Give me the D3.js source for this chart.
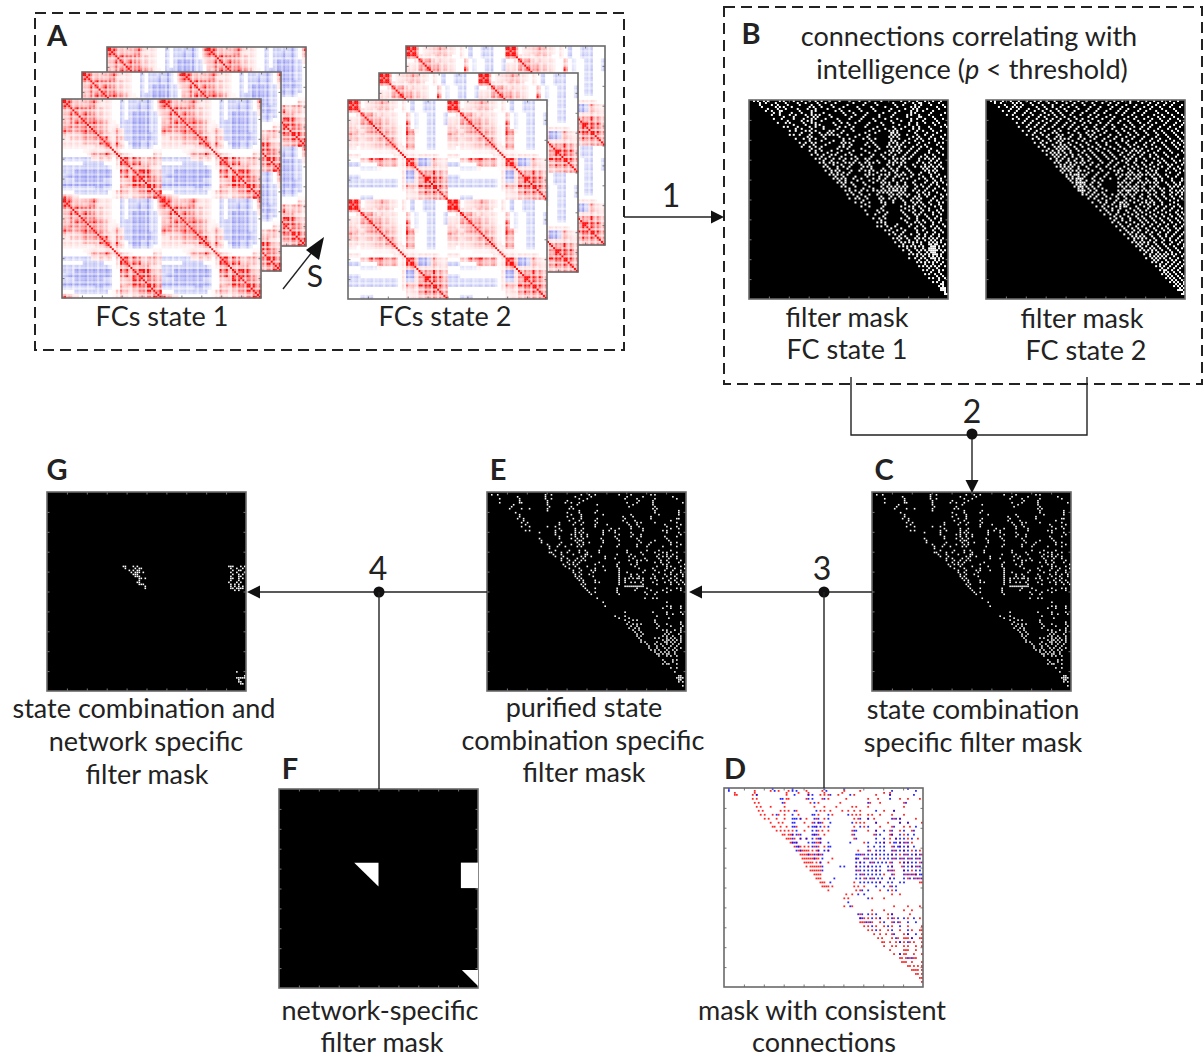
<!DOCTYPE html>
<html>
<head>
<meta charset="utf-8">
<style>
  html, body { margin: 0; padding: 0; background: #fff; }
  svg { display: block; }
  text { font-family: Lato, "Open Sans", sans-serif; fill: #222; }
</style>
</head>
<body>
<svg id="fig" width="1203" height="1057"></svg>
<script src="https://cdn.jsdelivr.net/npm/d3@7"></script>
<script>
// FC matrix, state 1: upper triangle of one half-period, digits 0 (blue) .. 3 (white) .. 9 (red)
const fcState1 = [
  '986555676444332312221237', '96665775444332312121236', '7776765544332312121235', '767765544332311111224',
  '67776544332311111223', '6777654432211111223', '677654542211111223', '77654664211111223',
  '7755664211111123', '775565211111123', '77674311121223', '7775321121233',
  '773333333344', '75443333354', '7877655665', '787755554', '77788654', '7798755', '788765', '77876', '7876', '787', '79', '9'
];
// FC matrix, state 2
const fcState2 = [
  '999344557544343233222333', '99344556544343233222333', '9444455543343233222333', '766545444335323322332',
  '86665544335323322332', '7665544337323322332', '676555437323322333', '66655438643322333',
  '6655438633322333', '665436533322333', '66536533322333', '6547633322333',
  '664443333333', '54444444433', '9871126544', '881125544', '75556555', '6668665', '898775', '88876', '7876', '776', '76', '8'
];
// thin lines that run through the FC matrices, paler or stronger than their block
const fcStreaks = [1,1.2,.7,1,1.3,.5,1,1.2,.6,1,1,1.3,.6,1,.8,1.2,1,.5,1.2,1,.7,1.3,1,.6,.3,.4,1.2,.5,1.3,.7,1,1.3,.6,.4,1.2,1,.6,1.3,.8,1,.5,1.3,1,.5,1.2,.8,.6,1.2];

// masks: [row, [columns]] on a 100 x 100 grid
const maskB1 = [
  [0,[2,4,7,9,15,17,22,26,30,33,36,40,45,50,55,60,66,76,80,84,88,92,96]],[1,[5,8,13,18,24,28,34,38,43,52,58,63,72,78,82,85,86,90,95]],
  [3,[6,13,15,17,21,30,32,36,42,47,54,61,68,74,81,83,85,94,98]],[5,[8,11,15,16,25,31,33,43,46,50,56,63,70,75,81,84,87,92]],
  [7,[11,15,20,23,28,31,33,35,40,48,53,58,65,72,79,81,85,90,96]],[9,[12,16,22,27,31,33,38,44,50,56,62,68,74,81,84,88,93,97]],
  [11,[14,18,20,27,31,33,42,46,49,53,60,66,72,80,84,88,92,95]],[13,[17,19,24,30,33,37,45,48,52,58,64,72,78,82,85,90,96,99]],
  [15,[20,23,28,30,33,40,42,47,52,60,65,70,72,74,80,84,87,92,96]],[17,[20,22,25,30,36,38,40,42,44,49,55,60,71,73,75,79,84,88,92,98]],
  [19,[23,27,30,33,38,47,50,57,60,63,71,75,80,84,86,90,93,97]],[21,[25,28,31,33,40,46,48,50,59,62,70,72,74,77,80,85,90,95,97]],
  [23,[26,30,33,36,45,47,50,60,64,69,71,73,75,78,82,86,89,96]],[25,[30,33,36,41,46,52,58,63,70,72,74,76,80,84,90,94]],
  [27,[31,34,37,41,43,48,51,56,62,66,70,73,78,82,88,92,97]],[29,[33,35,38,42,45,48,51,54,58,60,68,72,74,76,78,80,85,88,90,92,95]],
  [31,[35,37,40,42,44,48,50,52,55,58,60,62,65,70,72,74,76,78,84,87,90,93,96]],[33,[37,39,44,47,50,57,59,61,70,75,78,83,86,88,90,92,94,96]],
  [35,[38,41,43,45,51,55,58,60,62,66,68,72,74,80,88,90,92,94]],[37,[40,42,44,46,49,58,60,62,66,68,70,74,76,78,82,85,91,95]],
  [39,[42,44,46,48,52,56,62,65,68,72,77,79,85,88,92,96]],[41,[44,46,48,51,57,62,66,68,70,74,78,82,88,92,94,97]],
  [43,[46,48,53,60,66,69,71,73,75,77,79,84,87,90,95]],[45,[48,50,53,56,59,62,64,66,68,70,72,73,74,76,78,82,85,88,92,98]],
  [47,[49,52,56,60,64,70,72,74,76,78,80,85,88,90,96,99]],[49,[50,53,55,59,65,67,70,73,76,82,84,86,92,96]],
  [51,[53,56,60,66,68,72,78,82,84,86,90,95,97]],[53,[56,60,67,76,80,82,85,88,93,96]],[55,[58,64,67,76,80,83,87,90,94,97]],
  [57,[59,63,68,78,83,85,88,92,96]],[59,[62,65,68,76,80,84,90,93,96]],[61,[64,66,68,79,83,85,88,92,95]],
  [63,[64,66,69,73,80,84,87,91,94,98]],[65,[68,70,74,78,84,87,92,96]],[67,[70,73,76,81,85,88,92,95]],
  [69,[72,74,76,79,83,85,87,90,92,94,97]],[71,[73,76,78,80,82,84,86,90,92,94,96]],[73,[75,77,79,81,83,85,87,91,92,93,95,97]],
  [75,[77,80,84,86,88,90,91,92,93,94,96,98]],[77,[80,82,84,86,88,90,92,93,94,96]],[79,[80,83,86,88,91,92,93,95,97]],
  [81,[84,86,88,90,92,94,97]],[83,[85,87,89,91,93,95,98]],[85,[87,89,92,95,97]],[87,[88,90,93,96]],[89,[90,92,95,98]],
  [91,[92,94,97]],[93,[95,97]],[95,[96,97,98]],[97,[98,99]]
];
const maskB1Even = [
  [2,[5,11,14,19,25,31,35,41,49,57,64,73,77,83,86,91,97]],[4,[9,14,18,24,29,33,39,45,55,62,71,78,82,84,89,95]],
  [6,[12,15,21,26,31,37,47,52,59,67,73,81,83,91,98]],[8,[17,22,29,32,34,41,51,57,65,71,79,85,86,92]],
  [10,[19,26,29,31,36,45,55,63,71,76,81,87,94]],[12,[22,28,33,35,43,50,59,67,75,80,84,93,98]],
  [14,[23,26,31,37,44,51,62,68,73,76,82,85,91]],[16,[26,31,35,39,41,46,58,63,71,72,74,83,89,94]],
  [18,[29,31,37,45,53,59,70,72,74,82,85,91,96]],[20,[30,36,42,47,52,61,71,73,78,83,87,93]],
  [22,[27,32,38,47,51,58,63,70,74,76,84,88,94]],[24,[31,35,44,49,56,65,72,75,81,85,91,97]],
  [26,[33,39,44,50,60,68,71,75,79,83,90,95]],[28,[36,40,46,53,61,67,72,77,81,86,89,93]],
  [30,[37,41,47,53,59,64,70,73,77,85,91,94]],[32,[38,42,46,51,56,60,69,72,76,82,88,91,95]],
  [34,[40,44,49,56,61,67,71,74,79,87,89,93,97]],[36,[41,44,47,50,60,64,70,73,77,81,86,90,93]],
  [38,[43,47,53,59,65,69,73,75,81,87,91,94,98]],[40,[45,48,54,60,64,67,72,76,83,89,93,96]],
  [42,[47,52,58,67,70,74,78,83,86,91,94,99]],[44,[50,57,62,67,70,72,74,76,78,83,89,93,97]],
  [46,[51,55,65,67,69,71,75,77,84,87,90,94]],[48,[54,58,66,71,75,79,83,85,89,93,97]],
  [50,[57,66,72,77,81,85,91,94]],[52,[58,68,78,83,87,91,95]],[54,[66,78,82,86,90,96]],[56,[65,69,77,82,86,92,95]],
  [58,[67,79,84,89,94]],[60,[66,78,84,87,91,96]],[62,[68,74,81,86,92,97]],[64,[71,76,83,88,93,95]],
  [66,[72,77,84,89,93,97]],[68,[75,78,84,88,91,95]],[70,[75,80,84,88,91,93,96]],[72,[77,82,86,90,91,93,94,98]],
  [74,[79,83,87,90,91,92,93,95]],[76,[81,85,89,91,92,93,97]],[78,[84,87,90,92,94,96]],[80,[85,89,93,95]],
  [82,[88,92,96]],[84,[90,94]],[86,[91,95]],[88,[94,97]],[90,[95]],[92,[96,97]],[94,[96,97,98]],[96,[98]]
];
const maskB2 = [
  [0,[2,4,8,12,16,20,24,27,30,34,38,42,46,50,55,60,64,68,72,76,80,84,88,92,96]],[1,[4,7,13,15,17,22,26,31,35,40,44,48,53,58,62,66,72,78,82,86,90,94]],
  [3,[6,10,13,15,17,25,29,33,37,41,45,52,57,63,68,74,79,83,87,92,97]],[5,[8,11,15,20,24,28,32,36,40,44,50,55,60,66,70,76,80,85,90,95]],
  [7,[10,13,18,23,27,31,34,38,42,47,52,56,62,68,73,78,84,88,93,98]],[9,[13,16,20,25,30,33,37,41,45,48,53,58,63,69,74,79,83,87,92,96]],
  [11,[15,18,22,26,30,35,40,44,49,52,57,61,66,72,77,81,85,90,95,99]],[13,[16,20,24,28,33,38,42,46,50,54,59,64,70,74,78,82,87,92,97]],
  [15,[18,21,25,29,34,37,44,51,53,56,60,65,69,74,79,84,88,93,96]],[17,[20,23,28,31,36,38,43,47,51,53,57,62,67,72,76,81,86,90,95,99]],
  [19,[23,26,31,34,37,39,41,46,49,54,59,64,68,73,78,83,87,92,97]],[21,[24,27,30,35,37,41,45,50,55,60,65,70,75,80,84,88,93,96,99]],
  [23,[26,29,34,36,38,40,44,48,53,57,62,67,72,76,80,85,90,95,99]],[25,[28,30,33,36,38,42,46,49,52,56,61,66,70,73,75,77,81,86,92,98]],
  [27,[30,33,35,37,40,43,46,50,54,59,63,67,71,74,78,82,85,90,96]],[29,[32,35,38,41,45,48,52,56,61,65,70,72,75,79,84,88,93,99]],
  [31,[34,36,40,42,45,47,49,53,58,62,66,70,74,78,83,87,90,95,99]],[33,[35,37,39,41,43,46,50,55,60,64,69,73,76,80,84,88,92,96]],
  [35,[37,39,41,43,45,47,49,53,58,64,66,68,72,76,80,83,85,90,95,99]],[37,[40,42,44,45,46,48,50,55,60,65,68,70,72,74,76,78,80,82,84,86,90,96]],
  [39,[41,43,45,46,47,48,53,57,62,66,70,72,74,76,80,84,85,88,93,98]],[41,[43,45,46,47,48,49,53,56,66,68,70,72,76,78,80,82,84,86,90,94,97]],
  [43,[44,46,47,48,50,53,56,66,68,70,72,74,76,78,82,84,86,92,94,96,99]],[45,[46,47,48,49,52,55,60,66,68,70,71,72,74,76,78,80,82,84,88,92,95,97,99]],
  [47,[48,50,53,56,59,63,66,68,70,72,74,78,82,84,88,92,95,98]],[49,[51,54,58,62,66,70,74,78,82,86,90,94,98]],
  [51,[53,57,60,64,67,68,70,74,78,80,82,84,88,94]],[53,[55,58,61,65,67,69,70,75,79,82,86,90,94,97]],
  [55,[57,60,63,66,70,74,77,80,84,88,92,96]],[57,[59,62,65,69,73,76,80,84,88,92,96,99]],[59,[62,65,68,72,76,79,83,87,91,95,98]],
  [61,[63,66,70,74,78,81,85,89,93,97]],[63,[65,68,71,75,78,82,86,90,94,98]],[65,[67,70,74,77,81,85,89,92,96]],
  [67,[69,72,75,78,82,86,90,94,98]],[69,[71,74,76,78,80,84,88,92,96]],[71,[73,75,77,79,81,84,88,93,97]],[73,[75,77,80,83,86,90,94,99]],
  [75,[77,79,81,83,85,88,92,96]],[77,[79,82,85,87,89,91,93,95,99]],[79,[80,83,85,87,89,92,96]],[81,[83,85,88,91,94,97]],
  [83,[85,87,89,92,95,98]],[85,[87,89,90,93,96]],[87,[88,90,92,95,98]],[89,[90,92,94,97]],[91,[92,94,96,99]],[93,[94,96,98]],[95,[96,97,98]],[97,[98,99]]
];
const maskB2Even = [
  [2,[9,14,18,23,28,33,38,43,49,54,61,65,70,75,81,85,89,93,98]],[4,[12,16,21,26,30,35,39,46,51,56,62,67,71,77,82,88,94]],
  [6,[14,19,22,29,33,37,43,48,54,59,65,69,74,79,86,91,96]],[8,[15,21,26,29,35,39,44,51,55,60,64,71,75,81,86,89,94,99]],
  [10,[19,23,28,32,36,42,47,51,56,62,67,71,76,82,88,91,97]],[12,[21,25,29,34,39,43,48,55,60,63,69,73,79,83,89,94,98]],
  [14,[22,27,31,36,41,45,49,55,58,63,68,72,77,81,86,91,95]],[16,[24,27,33,35,41,46,50,54,59,66,71,75,80,85,89,94,98]],
  [18,[25,30,35,37,42,47,52,55,61,65,70,74,79,85,91,96]],[20,[28,32,36,38,43,48,52,58,62,68,71,77,82,86,90,94,98]],
  [22,[28,33,37,39,42,47,51,56,60,66,71,74,79,83,89,94,97]],[24,[31,35,37,39,41,45,51,55,59,64,69,74,78,83,87,91,96]],
  [26,[32,34,36,39,42,48,53,58,62,68,72,76,79,84,89,93,99]],[28,[34,36,39,43,47,51,55,60,64,69,73,77,82,86,91,95]],
  [30,[35,37,41,44,48,51,57,63,68,71,75,80,86,89,94,97]],[32,[37,39,42,44,48,52,56,61,65,71,75,79,82,86,91,93,98]],
  [34,[38,40,42,46,51,57,62,67,71,74,78,82,86,91,94,97]],[36,[38,42,46,51,56,61,66,71,73,77,81,85,92,97]],
  [38,[40,43,46,49,54,59,67,71,75,77,83,87,91,95]],[40,[42,45,47,50,54,58,69,73,77,81,85,88,93,98]],
  [42,[45,47,49,52,57,67,71,75,79,85,91,95,97]],[44,[46,48,51,54,58,69,73,75,79,83,87,89,93,98]],
  [46,[48,51,54,58,67,71,75,81,85,89,93,96,98]],[48,[52,55,60,65,69,73,77,81,85,89,93,97]],
  [50,[56,60,65,69,72,76,80,83,87,92,96]],[52,[59,63,67,69,71,77,81,84,88,92,96]],[54,[59,63,67,72,76,81,85,89,93,98]],
  [56,[61,66,71,75,78,82,86,90,95,98]],[58,[64,67,71,75,78,82,85,89,93,97]],[60,[64,68,72,77,80,84,88,92,96,99]],
  [62,[67,72,76,79,83,87,91,95,99]],[64,[69,73,76,80,84,88,91,95,97]],[66,[71,73,76,80,83,87,91,95,99]],
  [68,[73,75,77,79,83,87,90,93,97]],[70,[74,78,82,85,89,92,95,98]],[72,[76,78,81,85,89,92,96,99]],[74,[78,82,84,87,91,95,98]],
  [76,[80,83,86,90,93,97]],[78,[82,84,86,88,90,94,98]],[80,[84,86,90,93,95,99]],[82,[87,90,93,96,99]],[84,[88,91,94,97]],
  [86,[89,91,94,97]],[88,[91,93,96,99]],[90,[93,95,98]],[92,[95,97,99]],[94,[97,99]],[96,[99]]
];
const maskC = [
  [1,[2,5,29,32,47,51,54,66,72,82,84]],[3,[6,16,29,32,46,50,69,75,84,95]],[5,[6,16,17,30,39,42,46,70,75,83,98]],[8,[11,17,21,30,41,43,83,85]],
  [10,[14,40,46,54,84,96]],[13,[15,18,43,47,55,69,82,95,96]],[15,[17,20,36,44,48,55,70,75,77,84,95]],[17,[17,21,30,34,54,72,76,90,95]],
  [19,[19,21,34,37,44,47,58,61,64,78,88,90]],[21,[34,42,44,47,50,58,66,73,77,97]],[23,[26,36,42,45,48,57,65,75,90]],[25,[27,37,45,48,51,58,77,82,92,95]],
  [27,[31,35,39,45,47,57,65,75,80,88,95]],[28,[31]],[30,[31,32,37,40,46,50,56,70,77,84,88,90,95]],[32,[34,38,47,49,52,59,71,74,85,88,90,92,95]],
  [34,[37,41,44,47,49,71,75,77,80,87,90,97]],[36,[38,41,43,45,54,65,72,75,88,90,99]],[39,[43,47,52,54,59,66,79,84,89,93,97]],
  [41,[44,47,51,66,72,75,83,89,92,95,98]],[43,[45,47,66,69,71,73,75,76,78,82,84,88,92,95]],[45,[48,54,56,66,69,72,74,77,83,89,92,95,98]],
  [47,[48,69,70,71,72,73,74,75,76,77,78]],[48,[49,54,65,75,80,90,95,97]],[50,[51,54,65,79,85,90]],[53,[55,79,83,85]],[57,[59,90,92,97]],
  [60,[69,83,90,97]],[62,[64,69,85]],[64,[69,73,75,84]],[66,[70,73,75,77,85,90,97]],[68,[71,74,76,85,97]],[70,[74,77,90,92,97]],
  [72,[75,77,88,90,93,97]],[74,[77,88,90,91,93,95,97]],[75,[77,79,85,89,90,92,94,97]],[77,[81,85,88,92,95]],[79,[82,84,86,90,93,95]],
  [81,[85,86,88,90,91,94]],[84,[88,93,95]],[86,[88,90,91,95]],[90,[94]],[93,[95,96,97,98]],[95,[96,98]],[97,[98]]
];
const maskCExtra = [
  [2,[15,29,44,52,70,78,93]],[4,[16,30,40,48,76,83]],[6,[13,30,45,55,73,83]],[7,[12,31,42,71,84]],[9,[30,46,55,84,96]],[11,[16,42,47,58,72,86,96]],
  [12,[16,40,47,68,73,82]],[14,[18,41,46,54,68,74,92]],[16,[19,36,43,47,54,60,71,75,89,97]],[18,[36,44,48,62,66,72,78,92,96]],
  [20,[26,34,44,46,48,58,64,72,90,96]],[22,[36,44,47,50,64,72,77,89,95]],[24,[27,44,46,47,58,66,76,84,91]],[26,[30,36,42,46,48,66,75,81,92,97]],
  [29,[34,41,46,49,56,70,80,86,92]],[31,[33,37,43,49,50,65,72,78,86,90,93]],[33,[37,40,45,48,59,64,73,79,86,91,95]],[35,[40,43,46,56,66,75,84,87,91,96]],
  [37,[39,44,50,58,65,74,85,90,92,97]],[38,[41,46,54,66,76,83,90,94,99]],[40,[43,46,53,66,70,78,86,92,97]],[42,[44,46,53,66,72,76,84,90,94,98]],
  [44,[46,48,54,66,69,78,85,91,94,97]],[46,[47,49,66,78,85,92,96,99]],[49,[50,65,74,82,88,92,97]],[51,[52,66,80,84]],[55,[58,90]],[58,[88,92,97]],
  [61,[90,93,98]],[63,[66,71,91]],[65,[71,84,97]],[67,[72,75,86,92,98]],[69,[73,76,88,90,94,97]],[71,[75,78,89,91,96]],[73,[76,84,86,90,92,94,97]],
  [76,[80,84,87,90,93,96]],[78,[81,85,89,91,94,97]],[80,[84,87,89,91,94]],[82,[86,90,92,95]],[85,[89,93]],[88,[92,95]],[92,[96,97]],[94,[96,97]]
];
const maskG = [
  [37,[38,39,43,45,91,92,93,97,99]],[38,[39,44,46,47,92,95,98]],[39,[41,43,45,46,93,96,97]],[40,[42,44,45,46,48,92,95,99]],[41,[43,44,45,93,96,98]],
  [42,[44,45,46,92,96,97]],[43,[46,47,49,92,93,96,98]],[44,[46,92,96]],[45,[45,46,91,95,97]],[46,[46,47,48,92,94,96]],[47,[49,92,94,96,98]],
  [48,[49,92,93,95,96,97,98]],[49,[94,96]],[90,[95]],[92,[99]],[93,[95,96,97,98,99]],[94,[96]],[95,[96,97]],[96,[97,98]]
];
const maskDRed = [
  [1,[15,23,27,32,41,49,60,68]],[2,[5,15,31,37,42,50,59,80,83]],[3,[5,6,14,16,31,42,48,50,52,57,65,76,83]],[5,[14,16,31,32,41,49,52,61,72,77,88,92,98]],
  [7,[15,17,30,43,47,58,73,78,90]],[9,[16,18,23,30,45,50,56,64,66,72,90]],[11,[17,19,28,30,32,36,48,50,53,59,62,65,68,80,85]],
  [13,[18,20,24,27,30,37,47,54,64,66,68,72,74,78,84,90]],[15,[20,22,26,30,38,41,46,50,65,67,72,75,85,88,96]],[17,[23,27,29,40,44,47,49,66,68,70,76,82,88,92,99]],
  [19,[24,25,28,31,36,42,46,50,65,70,78,84,90,93]],[21,[26,28,30,32,34,40,47,49,52,64,72,76,83,88,94]],[23,[29,30,32,33,34,37,45,47,50,64,75,83,84,90]],
  [25,[31,32,33,35,38,41,46,48,65,83,86,92,97]],[27,[33,34,36,46,47,48,70,80,83,88,91,94]],[29,[35,37,38,40,42,45,47,50,84,88,92]],
  [31,[37,38,39,40,41,42,44,46,47,52,67,73,85,90,94,98]],[33,[38,39,40,41,42,43,44,46,47,48,69,76,84,88,91,96,99]],[35,[39,40,41,42,43,44,45,46,47,54,66,71,78,85,89,93,97]],
  [37,[40,41,42,43,44,46,48,52,68,74,83,88,90,92,98]],[39,[41,43,44,45,46,47,48,66,72,84,89,94,97]],[41,[43,44,45,46,47,48,67,76,83,85,90,94]],
  [43,[45,46,47,48,69,80,85,91,93,95,96]],[45,[46,47,48,70,74,83,92,96,98]],[47,[48,49,50,65,78,98,99]],[49,[49,50,51,52,54,65,67,70,83]],
  [51,[52,66,68,78,84]],[53,[61,64,84,88]],[55,[60,62,74,80]],[59,[60,64,85,92,98]],[61,[74,80,90,94]],[63,[68,74,82,84,93]],
  [65,[68,70,72,76,78,82,85,92,98]],[67,[68,69,70,72,74,78,84,88]],[69,[70,72,76,80,84,92,99]],[71,[72,74,78,82,88,94,98,99]],[73,[75,78,81,84,90,92,99]],
  [75,[77,79,84,87,90,91,92,94,98,99]],[77,[79,80,83,86,88,90,93,95,99]],[79,[80,84,86,90,92,96,99]],[81,[83,90,91,92,96]],[83,[85,88,90,91,95,99]],
  [85,[88,89,91,93,95,96]],[87,[89,90,91,94,99]],[89,[92,93,95,97,99]],[91,[94,95,96,97,99]],[93,[96,97,99]],[95,[98,99]],[97,[99]]
];
const maskDBlue = [
  [0,[2,24,34,50,60,92]],[1,[2,25,34,36,51,84,96]],[3,[16,35,42,44,53,63,83,95]],[5,[28,29,42,44,50,83]],[7,[29,45,72,91]],[11,[35,46,76,85]],
  [13,[26,34,44,45,52,62]],[15,[34,35,36,38,45,47,52,68,72,84,86,88]],[17,[34,35,45,47,48,53,64,76,88,92]],[19,[34,35,44,45,46,48,52,68,72,85,96]],
  [21,[36,44,46,65,66,76,80,84,90,95]],[23,[34,36,38,44,45,46,65,76,78,84,88,92,95]],[25,[34,38,41,44,47,48,66,76,80,86,88,90,94]],
  [27,[34,35,36,42,44,45,48,52,63,72,76,78,80,85,86,88,90,92]],[29,[36,37,44,46,52,53,72,75,78,80,85,87,88,90,92,95]],[31,[36,38,47,50,52,72,76,78,80,84,86,88,90,92,96]],
  [33,[42,45,47,49,66,67,68,70,72,74,76,78,80,82,84,86,90,92,94,96,98]],[35,[45,49,66,67,70,72,74,76,80,82,84,86,88,90,92,94,96,98]],
  [37,[48,66,68,70,73,75,77,79,81,84,90,92,94,96,99]],[39,[49,58,60,66,68,70,72,74,76,78,82,84,90,92,94,96,98]],[41,[49,66,68,70,72,74,76,78,82,84,90,92,96,98]],
  [43,[66,68,70,72,74,76,78,84,90,92,94,96,98,99]],[45,[55,66,68,71,73,75,77,79,83,85,90,93,95,97,99]],[47,[53,68,70,72,74,76,78,82,84,88,90]],
  [49,[76,80,84,86]],[51,[69,72,82,86]],[53,[67,70]],[55,[72]],[57,[62]],[59,[63]],[63,[67,69,72,76,84]],[65,[68,69,74,78,84,87,90,95]],
  [67,[71,73,80,85,87,92,96]],[69,[74,82,88]],[71,[76,84,92]],[73,[85,92,96]],[75,[86,94]],[77,[88,92]],[83,[88]],[85,[92,94]]
];
// network-specific mask F: shapes as corner points on the same 100 x 100 grid
const networkShapes = [
  [[37.8,37],[50,37],[50,49]],
  [[91.4,37],[100,37],[100,49.8],[91.4,49.8]],
  [[91.9,91],[100,91],[100,99]]
];

// layout
const SIZE = 199;
const fig = d3.select('#fig');
const defs = fig.append('defs');
defs.append('filter').attr('id', 'soft').append('feGaussianBlur').attr('stdDeviation', 0.5);

const unit = d3.scaleLinear().domain([0, 100]).range([0, SIZE]);
const fine = d3.scaleBand().domain(d3.range(96)).range([0, SIZE]);
const fcColor = d3.scaleLinear().domain([0, 2, 3, 4, 6, 8, 9])
  .range(['#9a9cf2', '#d6d8f9', '#ffffff', '#ffe8e8', '#ffb4b4', '#ff6a6a', '#ff1010']).clamp(true);

function frame(g) {
  const ticks = d3.range(10, 100, 10);
  const noLabel = a => a.tickValues(ticks).tickSize(-2.5).tickFormat('');
  [
    [d3.axisBottom, `translate(0,${SIZE})`], [d3.axisLeft, ''],
    [d3.axisTop, ''], [d3.axisRight, `translate(${SIZE},0)`]
  ].forEach(([ax, tr]) => {
    const a = g.append('g').attr('transform', tr).call(noLabel(ax(unit)));
    a.select('.domain').remove();
    a.selectAll('line').attr('stroke', '#777');
  });
  g.append('rect').attr('width', SIZE).attr('height', SIZE)
    .attr('fill', 'none').attr('stroke', '#6a6a6a').attr('stroke-width', 1.6);
}

function fcMatrix(x, y, tri, cover) {
  const g = fig.append('g').attr('transform', `translate(${x},${y})`);
  g.append('rect').attr('width', SIZE).attr('height', SIZE).attr('fill', '#fff');
  const cells = [];
  const cell = fine.bandwidth();
  // skip what the next sheet in the stack hides anyway
  const hidden = (r, c) => cover
    && x + fine(c) > cover[0] && x + fine(c) + cell < cover[0] + SIZE
    && y + fine(r) > cover[1] && y + fine(r) + cell < cover[1] + SIZE;
  d3.range(96).forEach(r => d3.range(96).forEach(c => {
    if (hidden(r, c)) return;
    const rr = r % 48, cc = c % 48;
    const a = Math.min(rr, cc) >> 1, b = Math.max(rr, cc) >> 1;
    const v = +tri[a][b - a];
    const val = rr === cc ? 9 : 3 + (v - 3) * fcStreaks[rr] * fcStreaks[cc];
    if (Math.abs(val - 3) > 0.1) cells.push({ r, c, val });
  }));
  g.append('g').attr('filter', 'url(#soft)').selectAll('rect').data(cells).join('rect')
    .attr('x', d => fine(d.c)).attr('y', d => fine(d.r))
    .attr('width', cell + 0.3).attr('height', cell + 0.3)
    .attr('fill', d => fcColor(d.val));
  frame(g);
}

const expand = rows => rows.flatMap(([r, cols]) => cols.map(c => ({ r, c })));

function dots(g, rows, color, side = 1, opacity = 1) {
  g.append('g').selectAll('rect').data(expand(rows)).join('rect')
    .attr('x', d => unit(d.c)).attr('y', d => unit(d.r))
    .attr('width', unit(side)).attr('height', unit(side))
    .attr('fill', color).attr('fill-opacity', opacity);
}

function mask(x, y, rows, side = 1) {
  const g = fig.append('g').attr('transform', `translate(${x},${y})`);
  g.append('rect').attr('width', SIZE).attr('height', SIZE).attr('fill', '#000');
  const inner = g.append('g').attr('filter', 'url(#soft)');
  dots(inner, rows, '#fff', side);
  frame(g);
  return g;
}

// stacks in panel A
[[107, 47, [82, 72]], [82, 72, [62, 99]], [62, 99, null]].forEach(([x, y, cv]) => fcMatrix(x, y, fcState1, cv));
[[406, 46, [379, 73]], [379, 73, [348, 100]], [348, 100, null]].forEach(([x, y, cv]) => fcMatrix(x, y, fcState2, cv));

// masks
mask(749, 100, maskB1.concat(maskB1Even));
mask(986, 100, maskB2.concat(maskB2Even));
mask(872, 492, maskC.concat(maskCExtra), 0.8);
mask(487, 492, maskC.concat(maskCExtra), 0.8);
mask(47, 492, maskG, 0.8);

const panelF = mask(279, 789, []);
panelF.selectAll('path.net').data(networkShapes).join('path').attr('class', 'net')
  .attr('d', d3.line().x(p => unit(p[0])).y(p => unit(p[1])).curve(d3.curveLinearClosed))
  .attr('fill', '#fff');

const panelD = fig.append('g').attr('transform', 'translate(724,788)');
panelD.append('rect').attr('width', SIZE).attr('height', SIZE).attr('fill', '#fff');
const panelDots = panelD.append('g').attr('filter', 'url(#soft)');
dots(panelDots, maskDRed, '#f00', 0.9, 0.85);
dots(panelDots, maskDBlue, '#00f', 0.9, 0.85);
frame(panelD);

// dashed boxes
const dashed = (x, y, w, h) => fig.append('rect').attr('x', x).attr('y', y).attr('width', w).attr('height', h)
  .attr('fill', 'none').attr('stroke', '#222').attr('stroke-width', 2).attr('stroke-dasharray', '11 6');
dashed(35, 13, 589, 337);
dashed(724, 7, 478, 377);

// connectors
const line = d3.line();
const wire = pts => fig.append('path').attr('d', line(pts)).attr('fill', 'none').attr('stroke', '#222').attr('stroke-width', 1.4);
const head = (x, y, dir) => {
  const L = 13, W = 6.5;
  const pts = dir === 'r' ? [[x, y], [x - L, y - W], [x - L, y + W]]
    : dir === 'l' ? [[x, y], [x + L, y - W], [x + L, y + W]]
    : [[x, y], [x - W, y - L], [x + W, y - L]];
  fig.append('path').attr('d', line(pts) + 'Z').attr('fill', '#111');
};
const node = (x, y) => fig.append('circle').attr('cx', x).attr('cy', y).attr('r', 5.5).attr('fill', '#111');

wire([[624, 217], [714, 217]]); head(724, 217, 'r');
wire([[851, 377], [851, 435], [1087, 435], [1087, 377]]);
wire([[972, 435], [972, 482]]); node(972, 434); head(972, 493, 'd');
wire([[872, 592], [700, 592]]); head(689, 592, 'l'); node(824, 592);
wire([[824, 592], [824, 788]]);
wire([[487, 592], [258, 592]]); head(247, 592, 'l'); node(379, 592);
wire([[379, 592], [379, 789]]);

// sessions arrow in panel A
wire([[283, 289], [316, 247]]);
fig.append('path').attr('d', line([[324, 237], [306, 250], [319, 260]]) + 'Z').attr('fill', '#111');

// text
const label = (s, x, y, size = 27, weight = 400) => fig.append('text')
  .attr('x', x).attr('y', y).attr('text-anchor', 'middle')
  .attr('font-size', size).attr('font-weight', weight).text(s);

[['A', 57, 46], ['B', 751, 44], ['C', 884, 480], ['D', 735, 779], ['E', 498, 480], ['F', 290, 779], ['G', 57, 480]]
  .forEach(([s, x, y]) => label(s, x, y, 29, 700));

[
  ['FCs state 1', 162, 326], ['FCs state 2', 445, 326],
  ['connections correlating with', 969, 46],
  ['filter mask', 847, 327], ['FC state 1', 847, 359], ['filter mask', 1082, 328], ['FC state 2', 1086, 360],
  ['state combination and', 144, 718], ['network specific', 146, 751], ['filter mask', 147, 784],
  ['purified state', 584, 717], ['combination specific', 583, 750], ['filter mask', 584, 782],
  ['state combination', 973, 719], ['specific filter mask', 973, 752],
  ['network-specific', 380, 1020], ['filter mask', 382, 1052],
  ['mask with consistent', 822, 1020], ['connections', 824, 1052]
].forEach(([s, x, y]) => label(s, x, y));

[['1', 671, 207], ['2', 972, 423], ['3', 822, 580], ['4', 378, 580]]
  .forEach(([s, x, y]) => label(s, x, y, 32));
label('S', 315, 287, 30);

const iq = label('', 972, 79);
iq.append('tspan').text('intelligence (');
iq.append('tspan').attr('font-style', 'italic').text('p');
iq.append('tspan').text(' < threshold)');
</script>
</body>
</html>
